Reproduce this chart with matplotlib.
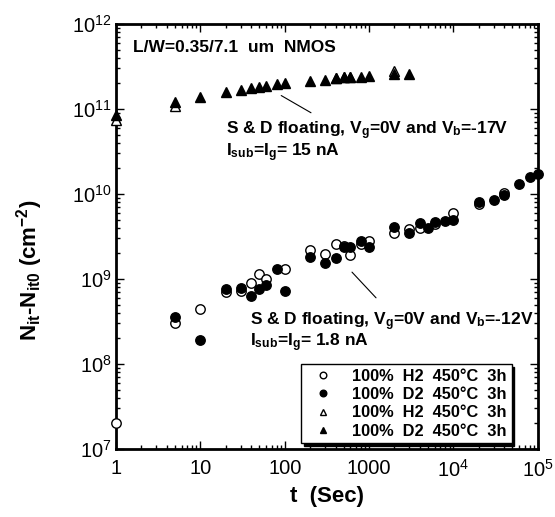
import numpy as np
import matplotlib
matplotlib.use("Agg")
from matplotlib import pyplot as plt

plt.rcParams['font.family'] = ['Liberation Sans', 'DejaVu Sans']
plt.rcParams['mathtext.fontset'] = 'custom'
plt.rcParams['mathtext.rm'] = 'Liberation Sans'
plt.rcParams['mathtext.it'] = 'Liberation Sans:italic'
plt.rcParams['mathtext.bf'] = 'Liberation Sans:bold'

# circles: H2 (open) / D2 (filled), Vb=-12V
h2_circ_t = [1, 5, 10, 20, 30, 40, 50, 60, 100, 200, 300, 400, 500, 600, 800,
             1000, 2000, 3000, 4000, 6000, 10000, 20000, 40000]
h2_circ_n = [2e7, 3.0e8, 4.4e8, 7.0e8, 7.3e8, 8.9e8, 1.15e9, 1.0e9, 1.3e9, 2.2e9,
             1.95e9, 2.6e9, 2.45e9, 1.9e9, 2.6e9, 2.8e9, 3.5e9, 3.9e9, 4.0e9,
             4.5e9, 6.0e9, 7.6e9, 1.02e10]
d2_circ_t = [5, 10, 20, 30, 40, 50, 60, 80, 100, 200, 300, 400, 500, 600, 800,
             1000, 2000, 3000, 4000, 5000, 6000, 8000, 10000, 20000, 30000,
             40000, 60000, 80000, 100000]
d2_circ_n = [3.6e8, 1.9e8, 7.6e8, 7.8e8, 6.3e8, 7.7e8, 8.5e8, 1.3e9, 7.2e8, 1.8e9,
             1.55e9, 1.75e9, 2.4e9, 2.35e9, 2.8e9, 2.35e9, 4.1e9, 3.5e9, 4.6e9,
             4.0e9, 4.7e9, 4.8e9, 4.9e9, 8.0e9, 8.4e9, 9.7e9, 1.3e10, 1.58e10,
             1.7e10]

# triangles: H2 (open) / D2 (filled), Vb=-17V
h2_tri_t = [1, 5, 400, 500, 600, 2000]
h2_tri_n = [7.5e10, 1.1e11, 2.3e11, 2.35e11, 2.4e11, 2.8e11]
d2_tri_t = [1, 5, 10, 20, 30, 40, 50, 60, 80, 100, 200, 300, 400, 500, 600,
            800, 1000, 2000, 3000]
d2_tri_n = [8.5e10, 1.2e11, 1.38e11, 1.58e11, 1.67e11, 1.75e11, 1.8e11, 1.85e11,
            1.95e11, 2.0e11, 2.15e11, 2.2e11, 2.3e11, 2.35e11, 2.4e11, 2.4e11,
            2.45e11, 2.6e11, 2.6e11]

legend_labels = ['100%  H2  450°C  3h', '100%  D2  450°C  3h',
                 '100%  H2  450°C  3h', '100%  D2  450°C  3h']
x_ticks = [1, 10, 100, 1000, 1e4, 1e5]
x_tick_labels = ['1', '10', '100', '1000', r'$10^{4}$', r'$10^{5}$']

fig = plt.figure(figsize=(5.55, 5.17), dpi=100)
ax = fig.add_axes([0.209, 0.1315, 0.760, 0.822])

ms = 6.8
ax.plot(h2_circ_t, h2_circ_n, 'o', ms=ms, mfc='white', mec='black', mew=1,
        clip_on=False, zorder=3, label=legend_labels[0])
ax.plot(d2_circ_t, d2_circ_n, 'o', ms=ms, mfc='black', mec='black', mew=1,
        clip_on=False, zorder=4, label=legend_labels[1])
ax.plot(h2_tri_t, h2_tri_n, '^', ms=ms, mfc='white', mec='black', mew=1,
        clip_on=False, zorder=3, label=legend_labels[2])
ax.plot(d2_tri_t, d2_tri_n, '^', ms=ms, mfc='black', mec='black', mew=1,
        clip_on=False, zorder=4, label=legend_labels[3])

ax.set_xscale('log')
ax.set_yscale('log')
ax.set_xlim(1, 1e5)
ax.set_ylim(1e7, 1e12)
ax.set_xticks(x_ticks)
ax.set_xticklabels(x_tick_labels)

for s in ax.spines.values():
    s.set_linewidth(2)
ax.tick_params(which='both', direction='in', top=True, right=True, width=1)
ax.tick_params(which='major', length=6)
ax.tick_params(which='minor', length=3)
ax.tick_params(axis='x', labelsize=14.5, pad=7)
ax.tick_params(axis='y', labelsize=14.5, pad=3)

ax.set_xlabel('t  (Sec)', fontsize=16, fontweight='bold')
ax.xaxis.set_label_coords(0.5, -0.087)
ax.set_ylabel(r'$\mathbf{N_{it}}$-$\mathbf{N_{it0}}$ (cm$^\mathbf{-2}$)',
              fontsize=16, fontweight='bold')
ax.yaxis.set_label_coords(-0.168, 0.42)

tf = dict(transform=ax.transAxes, fontsize=12.5, fontweight='bold', va='center')
ax.text(0.04, 0.944, 'L/W=0.35/7.1  um  NMOS', **tf)
ax.text(0.261, 0.724,
        'S & D floating, V$_\\mathbf{g}$=0V and V$_\\mathbf{b}$=-17V\n'
        'I$_\\mathbf{sub}$=I$_\\mathbf{g}$= 15 nA', linespacing=0.95, **tf)
ax.text(0.318, 0.299, r'S & D floating, V$_\mathbf{g}$=0V and V$_\mathbf{b}$=-12V', **tf)
ax.text(0.318, 0.249, r'I$_\mathbf{sub}$=I$_\mathbf{g}$= 1.8 nA', **tf)

ax.annotate('', xy=(0.386, 0.835), xytext=(0.468, 0.788), xycoords='axes fraction',
            arrowprops=dict(arrowstyle='-', lw=0.8, color='black'))
ax.annotate('', xy=(0.555, 0.421), xytext=(0.621, 0.351), xycoords='axes fraction',
            arrowprops=dict(arrowstyle='-', lw=0.8, color='black'))

leg = ax.legend(loc='lower right', bbox_to_anchor=(0.938, 0.013), borderaxespad=0,
                prop={'weight': 'bold', 'size': 11.8}, markerscale=0.7,
                frameon=True, fancybox=False, shadow={'color': 'black', 'alpha': 1},
                edgecolor='black', framealpha=1, handletextpad=0.8,
                labelspacing=0.2, borderpad=0.3, handlelength=2.0)
leg.get_frame().set_linewidth(1)

fig.savefig('out.png', dpi=100)
